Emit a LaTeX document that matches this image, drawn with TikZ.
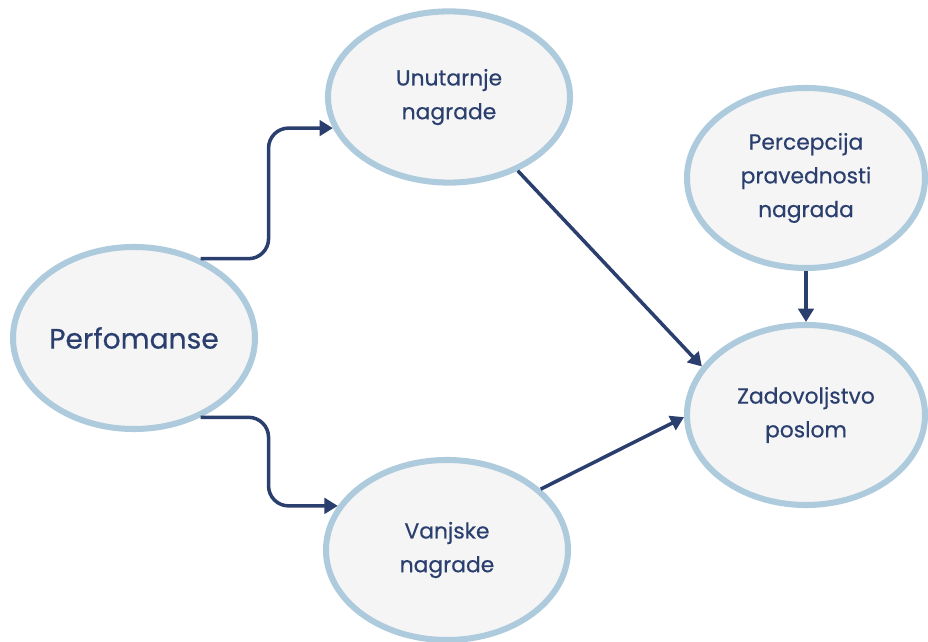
\documentclass[tikz,border=0pt]{standalone}
\usepackage{fontspec}
\setmainfont{Poppins}[UprightFeatures={FakeBold=0.5}]
\usepackage{tikz}
\usetikzlibrary{arrows.meta}
\usetikzlibrary{calc}
\usetikzlibrary{shapes.geometric}
\definecolor{rimblue}{HTML}{AECBDD}
\definecolor{ovalfill}{HTML}{F5F5F6}
\definecolor{navy}{HTML}{2A3F6E}

\begin{document}
\begin{tikzpicture}[
        node_style/.style={ellipse,draw=rimblue,fill=ovalfill,line width=4.3pt,inner sep=0pt,
            minimum width=6.05cm,minimum height=4.4cm,align=center,text=navy,
            font=\fontsize{15.5}{24}\selectfont},
        big_node_style/.style={node_style,font=\fontsize{20}{24}\selectfont},
        edge_style/.style={draw=navy,line width=2.5pt,rounded corners=0.5cm,
            -{Triangle[length=9.5pt,width=11pt]}}]
        \useasboundingbox (0,0) rectangle (23.2,16.05);

        \node [big_node_style,minimum height=4.55cm](perf) at (3.35,7.6) {Perfomanse};
        \node [node_style,minimum height=4.28cm](unut) at (11.225,13.625) {Unutarnje\\nagrade};
        \node [node_style,minimum height=4.5cm](vanj) at (11.175,2.3) {Vanjske\\nagrade};
        \node [node_style,minimum width=5.95cm,minimum height=4.5cm](perc) at (20.15,11.6) {Percepcija\\pravednosti\\nagrada};
        \node [node_style,minimum width=5.95cm,minimum height=4.5cm](zad) at (20.15,5.675) {Zadovoljstvo\\poslom};

        \draw [edge_style] (perf.50) -- ++(1.7,0) |- (unut.195);
        \draw [edge_style] (perf.-50) -- ++(1.7,0) |- (vanj.158);
        \draw [edge_style] (unut.-47) -- (zad.155);
        \draw [edge_style] (vanj.33) -- (zad.181);
        \draw [edge_style] (perc.south) -- (zad.north);
        \end{tikzpicture}
\end{document}
